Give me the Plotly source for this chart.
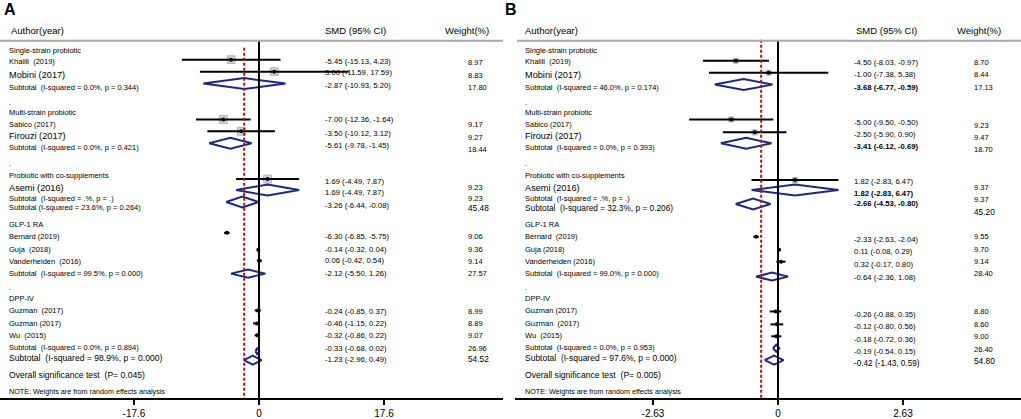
import plotly.graph_objects as go

# ---------------- data ----------------
left_labels_A = [
    "Single-strain probiotic", "Khalili  (2019)", "Mobini (2017)",
    "Subtotal  (I-squared = 0.0%, p = 0.344)", ".",
    "Multi-strain probiotic", "Sabico (2017)", "Firouzi (2017)",
    "Subtotal  (I-squared = 0.0%, p = 0.421)", ".",
    "Probiotic with co-supplements", "Asemi (2016)",
    "Subtotal  (I-squared = .%, p = .)", "Subtotal (I-squared = 23.6%, p = 0.264)",
    "GLP-1 RA", "Bernard (2019)", "Guja  (2018)", "Vanderheiden  (2016)",
    "Subtotal  (I-squared = 99.5%, p = 0.000)", ".",
    "DPP-IV", "Guzman  (2017)", "Guzman (2017)", "Wu  (2015)",
    "Subtotal  (I-squared = 0.0%, p = 0.894)",
    "Subtotal  (I-squared = 98.9%, p = 0.000)",
    "Overall significance test  (P= 0.045)",
    "NOTE: Weights are from random effects analysis",
]
left_labels_B = [
    "Single-strain probiotic", "Khalili  (2019)", "Mobini (2017)",
    "Subtotal  (I-squared = 46.0%, p = 0.174)", ".",
    "Multi-strain probiotic", "Sabico (2017)", "Firouzi (2017)",
    "Subtotal  (I-squared = 0.0%, p = 0.393)", ".",
    "Probiotic with co-supplements", "Asemi (2016)",
    "Subtotal  (I-squared = .%, p = .)", "Subtotal  (I-squared = 32.3%, p = 0.206)",
    "GLP-1 RA", "Bernard  (2019)", "Guja (2018)", "Vanderheiden (2016)",
    "Subtotal  (I-squared = 99.0%, p = 0.000)", ".",
    "DPP-IV", "Guzman (2017)", "Guzman  (2017)", "Wu  (2015)",
    "Subtotal  (I-squared = 0.0%, p = 0.953)",
    "Subtotal  (I-squared = 97.6%, p = 0.000)",
    "Overall significance test  (P= 0.005)",
    "NOTE: Weights are from random effects analysis",
]

row_kind = ["study", "study", "sub", "study", "study", "sub", "study", "sub", "sub",
            "study", "study", "study", "sub", "study", "study", "study", "sub", "sub"]

A_smd = [-5.45, 3.00, -2.87, -7.00, -3.50, -5.61, 1.69, 1.69, -3.26,
         -6.30, -0.14, 0.06, -2.12, -0.24, -0.46, -0.32, -0.33, -1.23]
A_lo = [-15.13, -11.59, -10.93, -12.36, -10.12, -9.78, -4.49, -4.49, -6.44,
        -6.85, -0.32, -0.42, -5.50, -0.85, -1.15, -0.86, -0.68, -2.96]
A_hi = [4.23, 17.59, 5.20, -1.64, 3.12, -1.45, 7.87, 7.87, -0.08,
        -5.75, 0.04, 0.54, 1.26, 0.37, 0.22, 0.22, 0.02, 0.49]
A_w = [8.97, 8.83, 17.80, 9.17, 9.27, 18.44, 9.23, 9.23, 45.48,
       9.06, 9.36, 9.14, 27.57, 8.99, 8.89, 9.07, 26.96, 54.52]
A_ref = -2.9          # dashed reference line
A_ticks = [-17.6, 0, 17.6]
A_ticktext = ["-17.6", "0", "17.6"]

B_smd = [-4.50, -1.00, -3.68, -5.00, -2.50, -3.41, 1.82, 1.82, -2.66,
         -2.33, 0.11, 0.32, -0.64, -0.26, -0.12, -0.18, -0.19, -0.42]
B_lo = [-8.03, -7.38, -6.77, -9.50, -5.90, -6.12, -2.83, -2.83, -4.53,
        -2.63, -0.08, -0.17, -2.36, -0.88, -0.80, -0.72, -0.54, -1.43]
B_hi = [-0.97, 5.38, -0.59, -0.50, 0.90, -0.69, 6.47, 6.47, -0.80,
        -2.04, 0.29, 0.80, 1.08, 0.35, 0.56, 0.36, 0.15, 0.59]
B_w = [8.70, 8.44, 17.13, 9.23, 9.47, 18.70, 9.37, 9.37, 45.20,
       9.55, 9.70, 9.14, 28.40, 8.80, 8.60, 9.00, 26.40, 54.80]
B_ref = -1.8
B_ticks = [-2.63, 0, 2.63]
B_ticktext = ["-2.63", "0", "2.63"]

# ---------------- layout / style ----------------
W, H = 1021, 419
FONT = "Liberation Sans, Arial, sans-serif"
NAVY = "#1b2a80"
DARKRED = "#a01818"

label_y = [51, 62, 75, 88, 103, 113, 125, 137, 148, 164, 176, 189, 199.5, 209,
           226, 238, 251, 263, 275, 289, 300, 312, 325, 337, 349, 360, 377, 393]
label_size_A = [7.5, 7.5, 9.2, 7.5, 7.5, 7.5, 7.5, 9.2, 7.5, 7.5, 7.5, 9.2, 7.5, 7.5,
                7.5, 7.5, 7.5, 7.5, 7.5, 7.5, 7.5, 7.5, 7.5, 7.5, 7.5, 8.6, 8.6, 7.2]
label_size_B = [7.5, 7.5, 9.2, 7.5, 7.5, 7.5, 7.5, 9.2, 7.5, 7.5, 7.5, 9.2, 7.5, 8.3,
                7.5, 7.5, 7.5, 7.5, 7.5, 7.5, 7.5, 7.5, 7.5, 7.5, 7.5, 8.5, 8.6, 7.2]

mark_y_A = [60, 72, 84, 120, 132, 144, 180, 191, 203, 234, 251, 262, 275, 312, 325, 337, 353, 362]
mark_y_B = [61, 73, 85, 120, 133, 144, 181, 191, 205, 238, 251, 263, 278, 313, 326, 338, 350, 362]
diamond_h = [5.5, 5.5, 5.5, 5.5, 5.5, 5.5, 5.5, 5.5, 5.5, 4, 4, 4, 4, 4, 4, 4, 3.5, 4.5]
show_box = [True] * 9 + [False] * 9

smd_y_A = [62, 73, 86, 120, 134, 146, 182, 193, 207, 238, 251, 262, 275, 313, 325, 337, 350, 361]
smd_y_B = [63, 75, 88, 123, 135, 147, 182, 194, 205, 241, 253, 266, 279, 316, 328, 341, 353, 365]
w_y_A = [63, 76, 88, 125, 138, 150, 188, 199, 209, 238, 251, 263, 275, 313, 325, 337, 350, 361]
w_y_B = [63, 75, 88, 126, 138, 150, 188, 200, 213, 238, 251, 263, 275, 313, 326, 338, 351, 363]
smd_bold_B = [False, False, True, False, False, True, False, True, True] + [False] * 9

panels = [
    dict(name="A", xa="x", xt="x3", smd=A_smd, lo=A_lo, hi=A_hi, w=A_w, ref=A_ref,
         ticks=A_ticks, ticktext=A_ticktext, labels=left_labels_A, lsize=label_size_A,
         mark_y=mark_y_A, smd_y=smd_y_A, w_y=w_y_A, bold=[False] * 18,
         x0=0, x1=503, zero_px=259, data_ppu=5.1, tick_ppu=125 / 17.6,
         letter_x=3, label_x=8, head_x=10, smd_x=324, smdh_x=324, wh_x=444, w_x=467,
         line_x0=0, line_x1=503, box_k=2.6, ref_top=48,
         big_smd=[], big_w=[8, 17]),
    dict(name="B", xa="x2", xt="x4", smd=B_smd, lo=B_lo, hi=B_hi, w=B_w, ref=B_ref,
         ticks=B_ticks, ticktext=B_ticktext, labels=left_labels_B, lsize=label_size_B,
         mark_y=mark_y_B, smd_y=smd_y_B, w_y=w_y_B, bold=smd_bold_B,
         x0=515, x1=1021, zero_px=778, data_ppu=9.35, tick_ppu=125 / 2.63,
         letter_x=504, label_x=524, head_x=524, smd_x=853, smdh_x=855, wh_x=956, w_x=973,
         line_x0=517, line_x1=1021, box_k=1.7, ref_top=40,
         big_smd=[17], big_w=[8, 17]),
]

fig = go.Figure()
annotations = []
shapes = []


def ann(xpx, y, text, size, bold=False, anchor="left"):
    annotations.append(dict(
        x=xpx / W, xref="paper", y=y, yref="y", text=("<b>%s</b>" % text) if bold else text,
        showarrow=False, xanchor=anchor, yanchor="middle", borderpad=0,
        font=dict(family=FONT, size=size, color="black")))


for p in panels:
    xa, n = p["xa"], len(p["smd"])
    lx, ly = [], []
    bx, by, bs = [], [], []
    dx, dy = [], []
    sx, sy = [], []
    for i in range(n):
        y = p["mark_y"][i]
        if row_kind[i] == "study":
            lx += [p["lo"][i], p["hi"][i], None]
            ly += [y, y, None]
            dx.append(p["smd"][i]); dy.append(y)
            if show_box[i]:
                bx.append(p["smd"][i]); by.append(y)
                bs.append(p["box_k"] * p["w"][i] ** 0.5)
        else:
            h = diamond_h[i]
            sx += [p["lo"][i], p["smd"][i], p["hi"][i], p["smd"][i], p["lo"][i], None]
            sy += [y, y - h, y, y + h, y, None]
    fig.add_trace(go.Scatter(x=bx, y=by, mode="markers", xaxis=xa, yaxis="y",
                             marker=dict(symbol="square", size=bs, color="#b9c1cf",
                                         line=dict(color="#8a93a6", width=1)),
                             hoverinfo="skip", showlegend=False))
    fig.add_trace(go.Scatter(x=lx, y=ly, mode="lines", xaxis=xa, yaxis="y",
                             line=dict(color="black", width=2), hoverinfo="skip", showlegend=False))
    fig.add_trace(go.Scatter(x=dx, y=dy, mode="markers", xaxis=xa, yaxis="y",
                             marker=dict(symbol="circle", size=4, color="black"),
                             hoverinfo="skip", showlegend=False))
    fig.add_trace(go.Scatter(x=sx, y=sy, mode="lines", xaxis=xa, yaxis="y",
                             line=dict(color=NAVY, width=2), hoverinfo="skip", showlegend=False))
    # dummy trace so the tick axis is drawn
    fig.add_trace(go.Scatter(x=[0], y=[-1000], mode="markers", xaxis=p["xt"], yaxis="y",
                             marker=dict(opacity=0), hoverinfo="skip", showlegend=False))

    shapes.append(dict(type="line", xref=xa, yref="y", x0=0, x1=0, y0=41, y1=400,
                       line=dict(color="black", width=2)))
    shapes.append(dict(type="line", xref=xa, yref="y", x0=p["ref"], x1=p["ref"],
                       y0=p["ref_top"], y1=400,
                       line=dict(color=DARKRED, width=2, dash="3px,2px")))
    shapes.append(dict(type="line", xref="paper", yref="y", x0=p["line_x0"] / W,
                       x1=p["line_x1"] / W, y0=41, y1=41,
                       line=dict(color="#a8a8a8", width=2)))

    ann(p["letter_x"], 10, p["name"], 16, bold=True)
    ann(p["head_x"], 31, "Author(year)", 9.5)
    ann(p["smdh_x"], 31, "SMD (95% CI)", 9.5)
    ann(p["wh_x"], 31, "Weight(%)", 9.5)
    for i, t in enumerate(p["labels"]):
        ann(p["label_x"], label_y[i], t, p["lsize"][i])
    for i in range(n):
        txt = "%.2f (%.2f, %.2f)" % (p["smd"][i], p["lo"][i], p["hi"][i])
        ann(p["smd_x"], p["smd_y"][i], txt, 8.2 if i in p["big_smd"] else 7.7, bold=p["bold"][i])
        ann(p["w_x"], p["w_y"][i], "%.2f" % p["w"][i], 8.3 if i in p["big_w"] else 7.5)

axes = {}
for p in panels:
    dom = [p["x0"] / W, p["x1"] / W]
    data_rng = [(p["x0"] - p["zero_px"]) / p["data_ppu"], (p["x1"] - p["zero_px"]) / p["data_ppu"]]
    tick_rng = [(p["x0"] - p["zero_px"]) / p["tick_ppu"], (p["x1"] - p["zero_px"]) / p["tick_ppu"]]
    dkey = "xaxis" if p["xa"] == "x" else "xaxis2"
    tkey = "xaxis3" if p["xt"] == "x3" else "xaxis4"
    axes[dkey] = dict(domain=dom, range=data_rng, visible=False, anchor="y", fixedrange=True)
    axes[tkey] = dict(overlaying=p["xa"], range=tick_rng, anchor="y", side="bottom",
                      tickvals=p["ticks"], ticktext=p["ticktext"], showline=True,
                      linecolor="black", linewidth=2, ticks="outside", ticklen=5,
                      tickwidth=1.5, tickcolor="black", showgrid=False, zeroline=False,
                      tickfont=dict(family=FONT, size=10, color="black"), fixedrange=True)

fig.update_layout(
    width=W, height=H, margin=dict(l=0, r=0, t=0, b=19),
    paper_bgcolor="white", plot_bgcolor="white",
    yaxis=dict(range=[400, 0], visible=False, domain=[0, 1], fixedrange=True),
    annotations=annotations, shapes=shapes, showlegend=False,
    **axes,
)

fig.write_html("out.html", config={"displayModeBar": False},
               post_script="document.body.style.margin='0px';")
